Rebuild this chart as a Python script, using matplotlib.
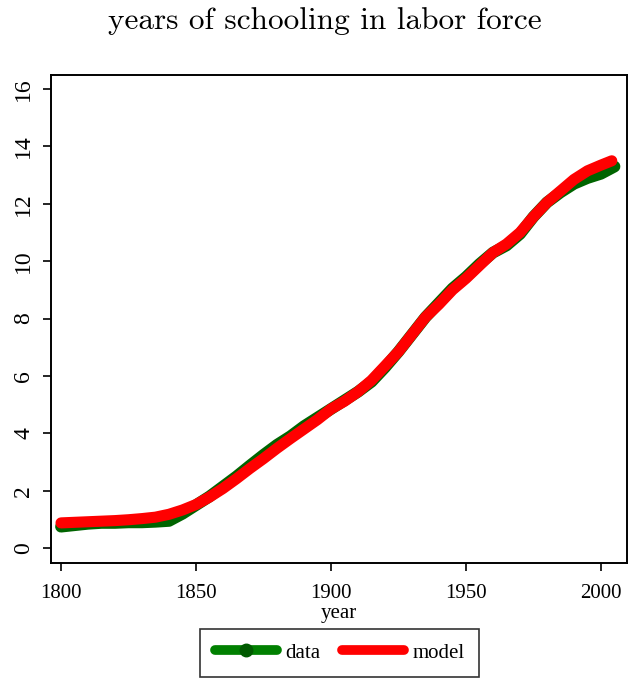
import matplotlib.pyplot as plt
from matplotlib.lines import Line2D

# years and values (every 5 years)
years_data = [1800, 1805, 1810, 1815, 1820, 1825, 1830, 1835, 1840, 1845,
              1850, 1855, 1860, 1865, 1870, 1875, 1880, 1885, 1890, 1895,
              1900, 1905, 1910, 1915, 1920, 1925, 1930, 1935, 1940, 1945,
              1950, 1955, 1960, 1965, 1970, 1975, 1980, 1985, 1990, 1995,
              2000, 2005]
schooling_data = [0.75, 0.80, 0.85, 0.88, 0.88, 0.90, 0.90, 0.92, 0.95, 1.20,
                  1.50, 1.80, 2.15, 2.50, 2.88, 3.25, 3.60, 3.90, 4.25, 4.55,
                  4.85, 5.15, 5.45, 5.80, 6.30, 6.85, 7.45, 8.05, 8.55, 9.05,
                  9.45, 9.90, 10.30, 10.55, 10.95, 11.55, 12.05, 12.40, 12.70, 12.90,
                  13.05, 13.30]

years_model = [1800, 1805, 1810, 1815, 1820, 1825, 1830, 1835, 1840, 1845,
               1850, 1855, 1860, 1865, 1870, 1875, 1880, 1885, 1890, 1895,
               1900, 1905, 1910, 1915, 1920, 1925, 1930, 1935, 1940, 1945,
               1950, 1955, 1960, 1965, 1970, 1975, 1980, 1985, 1990, 1995,
               2000, 2004]
schooling_model = [0.88, 0.90, 0.92, 0.94, 0.96, 0.99, 1.03, 1.08, 1.18, 1.33,
                   1.52, 1.78, 2.08, 2.42, 2.78, 3.12, 3.48, 3.82, 4.15, 4.48,
                   4.85, 5.12, 5.45, 5.85, 6.35, 6.85, 7.45, 8.05, 8.50, 9.00,
                   9.40, 9.85, 10.30, 10.60, 11.00, 11.55, 12.05, 12.45, 12.85, 13.15,
                   13.35, 13.50]

x_ticks = [1800, 1850, 1900, 1950, 2000]
y_ticks = [0, 2, 4, 6, 8, 10, 12, 14, 16]

green = "#006400"
red = "#ff0000"

fig = plt.figure(figsize=(6.41, 6.85), dpi=100)
ax = fig.add_axes([0.0796, 0.178, 0.8984, 0.7125])

ax.plot(years_data, schooling_data, color=green, lw=8.5,
        solid_capstyle="round", solid_joinstyle="round", zorder=2)
ax.plot(years_model, schooling_model, color=red, lw=8,
        solid_capstyle="round", solid_joinstyle="round", zorder=3)

ax.set_xlim(1796.3, 2009.6)
ax.set_ylim(-0.52, 16.49)
ax.set_xticks(x_ticks)
ax.set_yticks(y_ticks)

for s in ax.spines.values():
    s.set_linewidth(1.4)
ax.tick_params(direction="out", length=6, width=1.2)

ax.set_xticklabels([str(t) for t in x_ticks],
                   fontdict={"family": "Liberation Serif", "size": 15})
ax.set_yticklabels([str(t) for t in y_ticks],
                   fontdict={"family": "Liberation Serif", "size": 17},
                   rotation=90, va="center")
ax.tick_params(axis="x", pad=9)
ax.tick_params(axis="y", pad=6)

ax.set_xlabel("year", fontfamily="Liberation Serif", fontsize=15, labelpad=1)

fig.suptitle("years of schooling in labor force", fontfamily="cmr10",
             fontsize=22.5, x=0.507, y=0.99)

handles = [
    Line2D([], [], color="#008000", lw=7, marker="o", markersize=9,
           markerfacecolor="#005a00", markeredgecolor="#005a00",
           solid_capstyle="round"),
    Line2D([], [], color=red, lw=7, solid_capstyle="round"),
]
leg = fig.legend(handles, ["data", "model"], loc="lower center",
                 bbox_to_anchor=(0.53, -0.004), ncol=2, frameon=True,
                 fancybox=False, edgecolor="black", handlelength=3.0,
                 columnspacing=1.0, handletextpad=0.4, borderpad=0.7,
                 prop={"family": "Liberation Serif", "size": 15})
leg.get_frame().set_linewidth(1.2)

fig.savefig("out.png", dpi=100)
